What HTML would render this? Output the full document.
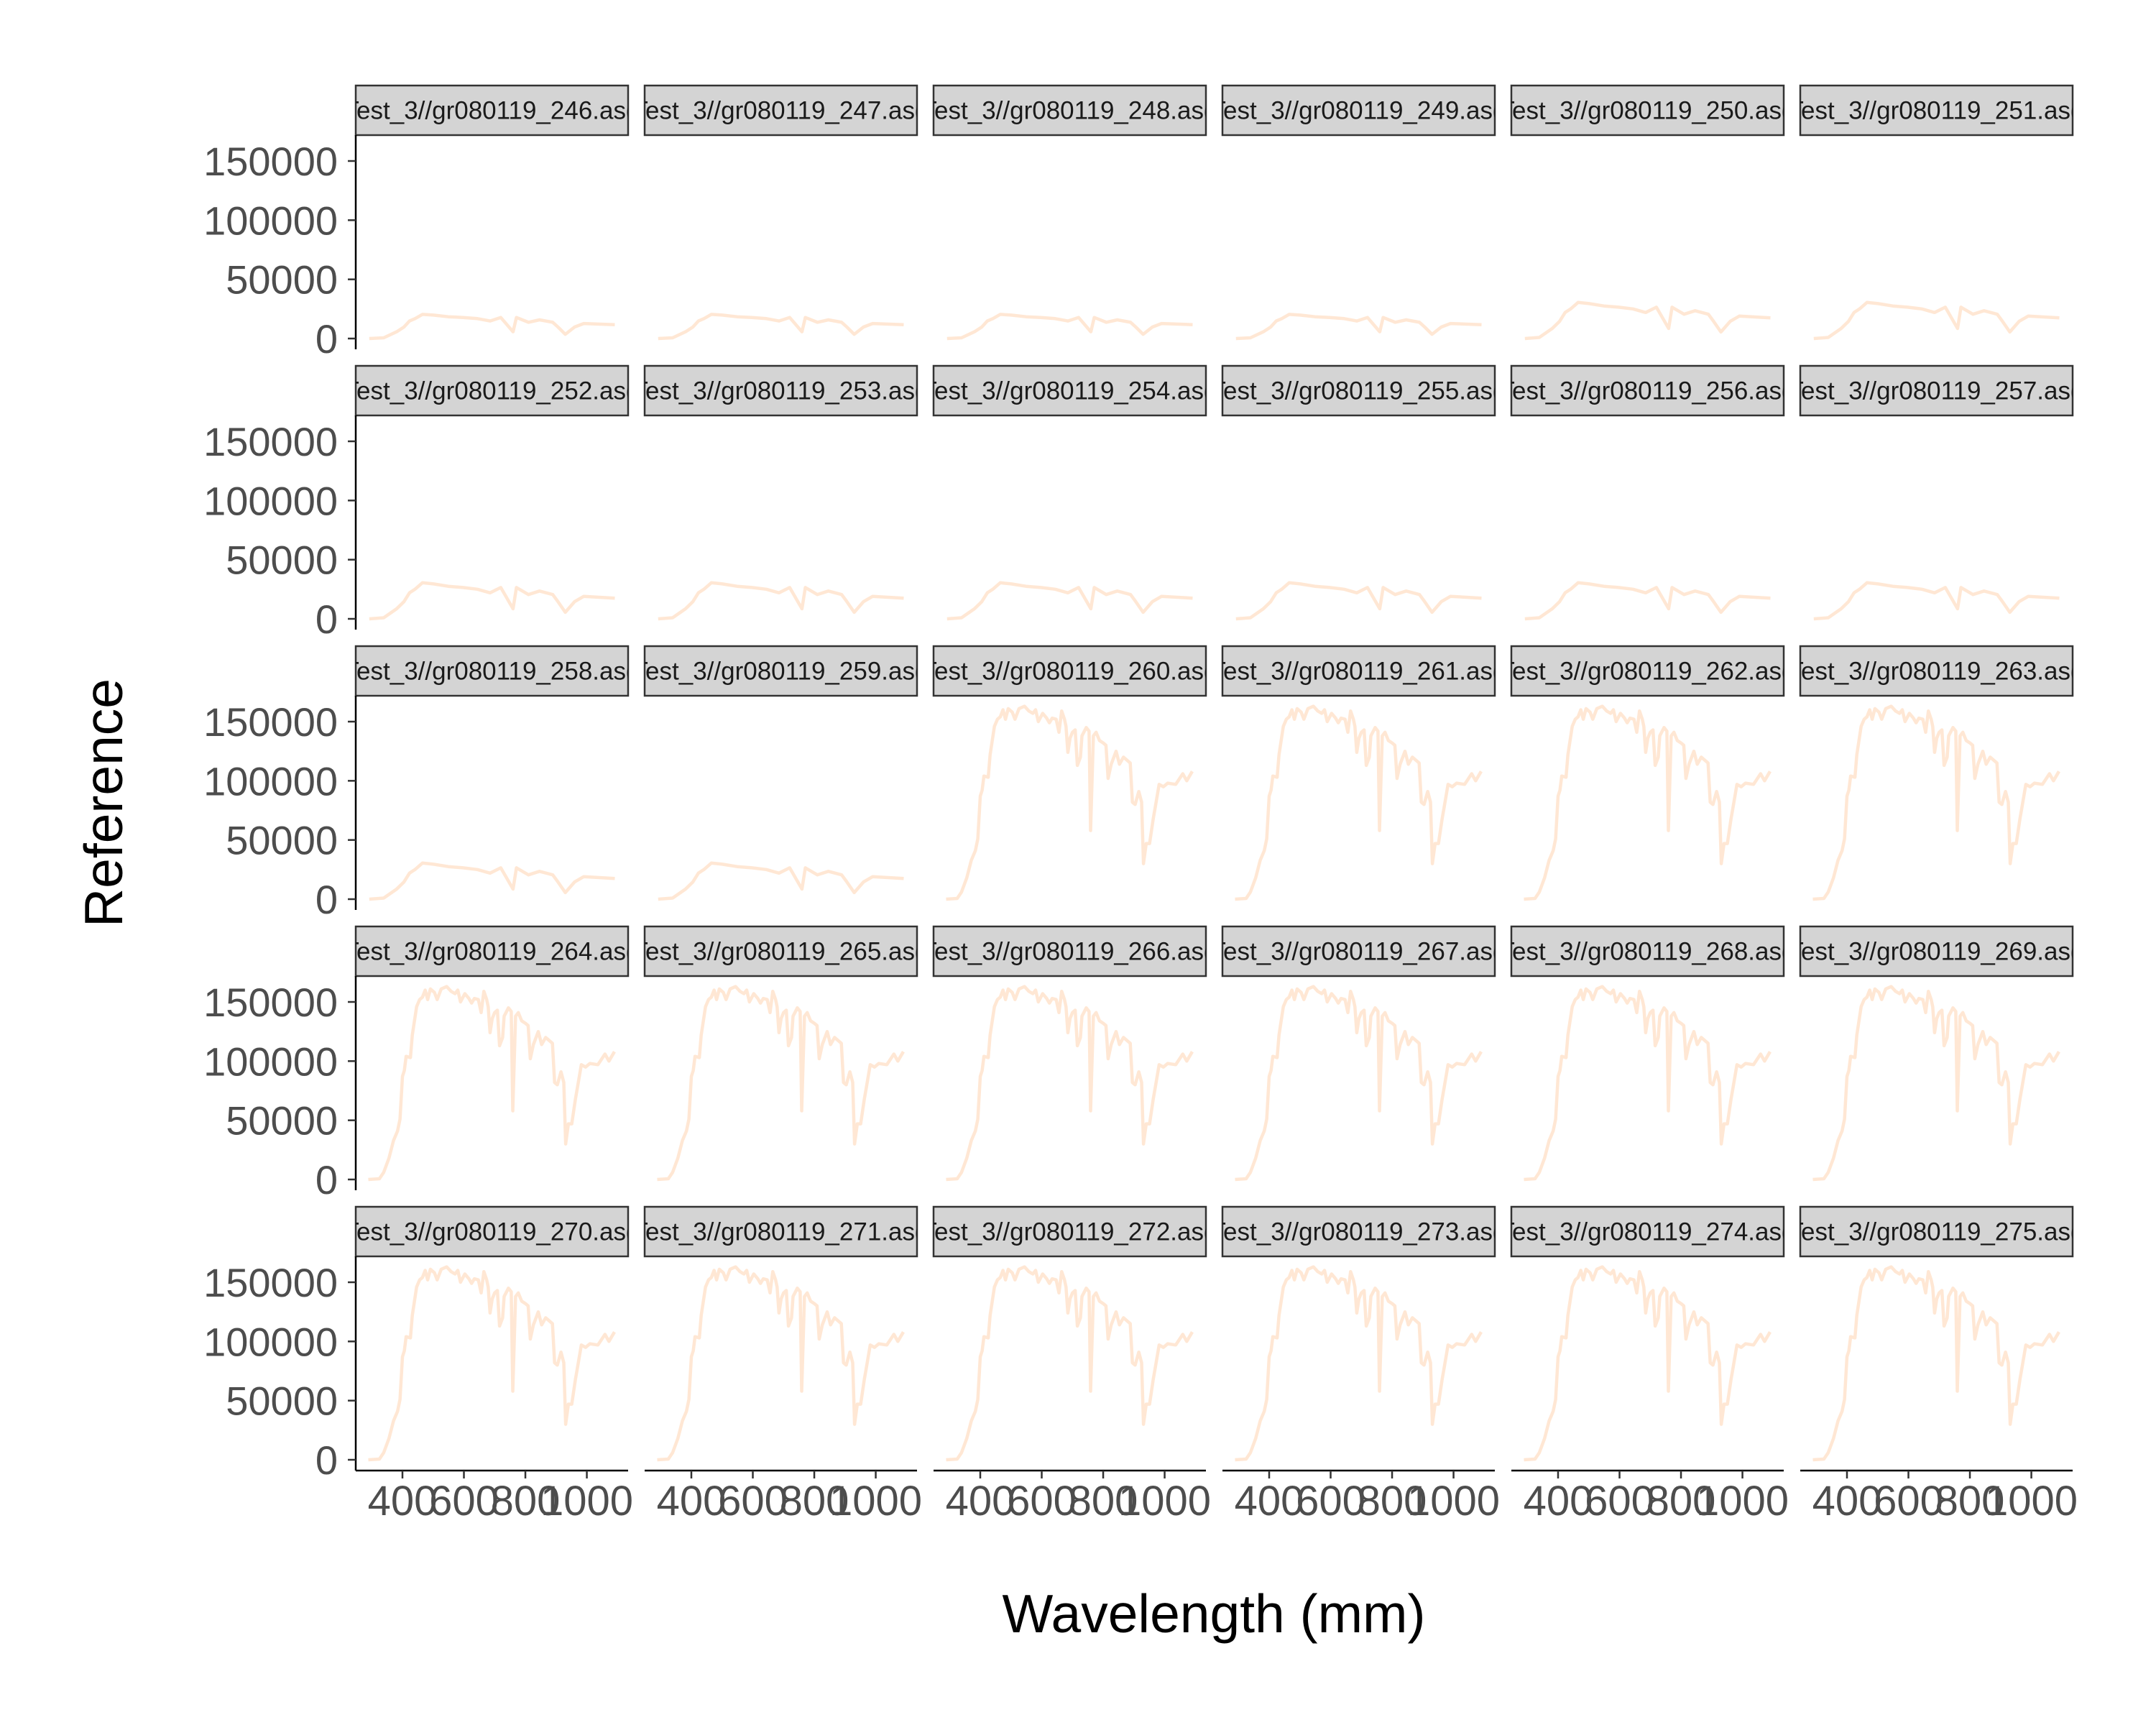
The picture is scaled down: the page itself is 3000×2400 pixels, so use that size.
<!DOCTYPE html>
<html><head><meta charset="utf-8"><style>
html,body{margin:0;padding:0;background:#fff;}
svg{display:block;font-family:"Liberation Sans",Arial,sans-serif;}
</style></head><body>
<svg id="chart" width="3000" height="2400" viewBox="0 0 3000 2400" xmlns="http://www.w3.org/2000/svg">
<rect width="3000" height="2400" fill="#fff"/>
<g id="panels"></g>
<text x="1689" y="2271" font-size="75" text-anchor="middle" fill="#000">Wavelength (mm)</text>
<text x="0" y="0" font-size="75" text-anchor="middle" fill="#000" transform="translate(170,1117) rotate(-90)">Reference</text>
</svg>
<script>
const sampleIds = [246,247,248,249,250,251,252,253,254,255,256,257,258,259,260,261,262,263,264,265,266,267,268,269,270,271,272,273,274,275];
const xTicks = [400,600,800,1000];
const yTicks = [0,50000,100000,150000];
const yTickLabels = ["0","50000","100000","150000"];

const wlLow = [292,339,381,405,423,441,465,501,549,597,644,685,720,760,771,810,846,889,906,930,960,990,1091];
const refLowA = [0,600,5700,9700,14800,16800,20400,19800,18400,17800,16800,14800,17800,5700,17800,13700,15800,13700,9700,3600,9700,12700,11700];
const refLowB = [0,900,8500,14500,22000,25000,30500,29500,27500,26500,25000,22000,26500,8500,26500,20500,23500,20500,14500,5500,14500,19000,17500];

const wlHigh = [289,325,339,356,371,384,392,400,406,412,426,432,446,456,465,474,482,491,504,513,526,544,558,571,580,589,603,616,625,634,647,656,665,674,679,685,692,700,709,716,726,731,745,754,759,768,777,788,800,809,816,826,842,853,866,888,895,904,916,925,931,940,951,963,969,982,996,1010,1036,1059,1072,1090];
const refHigh = [0,600,6000,18000,33000,41000,51000,87000,92000,104000,103000,122000,146000,152000,154000,160000,152000,161000,158000,152000,161000,163000,159000,157000,160000,150000,157000,153000,149000,153000,152000,141000,159000,152000,146000,124000,136000,141000,143000,113000,120000,138000,145000,142000,58000,138000,141000,134000,132000,130000,102000,114000,125000,114000,120000,115000,82000,80000,91000,82000,30000,47000,47000,68000,77000,97000,95000,98000,97000,106000,100000,108000];

const NS = "http://www.w3.org/2000/svg";
const g = document.getElementById('panels');
const COL0 = 495, COLP = 402, PW = 379;
const ROW0 = 119, ROWP = 390, SH = 69, PH = 298;
function xScale(col, nm){ return COL0 + col*COLP + 65 + (nm-400)*0.4276; }
function yScale(row, v){ return ROW0 + row*ROWP + 352 - v*247/150000; }
function mk(tag, attrs){ const e=document.createElementNS(NS,tag); for(const k in attrs) e.setAttribute(k,attrs[k]); return e; }

sampleIds.forEach((id, i) => {
  const row = Math.floor(i/6), col = i%6;
  const L = COL0 + col*COLP, T = ROW0 + row*ROWP;
  // strip
  const cp = mk('clipPath',{id:'cp'+i});
  cp.appendChild(mk('rect',{x:L,y:T,width:PW,height:SH}));
  g.appendChild(cp);
  const strip = mk('rect',{x:L,y:T,width:PW,height:SH,fill:'#D4D4D4',stroke:'#333',"stroke-width":2.5});
  
  
  g.appendChild(strip);
  const st = mk('text',{x:L+PW/2,y:T+SH/2+12,"font-size":35,"text-anchor":"middle",fill:'#1A1A1A',"clip-path":'url(#cp'+i+')'});
  st.textContent = 'Test_3//gr080119_'+id+'.asd';
  
  
  g.appendChild(st);
  // series
  let wl, ref;
  if (id < 250) { wl = wlLow; ref = refLowA; }
  else if (id < 260) { wl = wlLow; ref = refLowB; }
  else { wl = wlHigh; ref = refHigh; }
  const pts = wl.map((w,k)=> xScale(col,w).toFixed(1)+','+yScale(row,ref[k]).toFixed(1)).join(' ');
  const line = mk('polyline',{points:pts,fill:'none',stroke:'#FFE6D2',"stroke-width":4.5,"stroke-linejoin":'round',"stroke-opacity":0.95});
  
  
  g.appendChild(line);
  // y axis on first column
  if (col === 0) {
    const ax = mk('line',{x1:L,y1:T+SH,x2:L,y2:T+SH+PH,stroke:'#000',"stroke-width":2.5});
    
    
    g.appendChild(ax);
    yTicks.forEach((v,k)=>{
      const y = yScale(row,v);
      const tk = mk('line',{x1:L-11,y1:y,x2:L,y2:y,stroke:'#333',"stroke-width":2.5});
      
      
      g.appendChild(tk);
      const tl = mk('text',{x:L-25,y:y+20,"font-size":56,"text-anchor":"end",fill:'#4D4D4D'});
      tl.textContent = yTickLabels[k];
      
      
      g.appendChild(tl);
    });
  }
  // x axis on bottom row
  if (row === 4) {
    const yb = T+SH+PH;
    const ax = mk('line',{x1:L,y1:yb,x2:L+PW,y2:yb,stroke:'#000',"stroke-width":2.5});
    
    
    g.appendChild(ax);
    xTicks.forEach(v=>{
      const x = xScale(col,v);
      const tk = mk('line',{x1:x,y1:yb,x2:x,y2:yb+11,stroke:'#333',"stroke-width":2.5});
      
      
      g.appendChild(tk);
      const tl = mk('text',{x:x,y:yb+62,"font-size":58,"text-anchor":"middle",fill:'#4D4D4D'});
      tl.textContent = String(v);
      
      
      g.appendChild(tl);
    });
  }
});
</script>
</body></html>
